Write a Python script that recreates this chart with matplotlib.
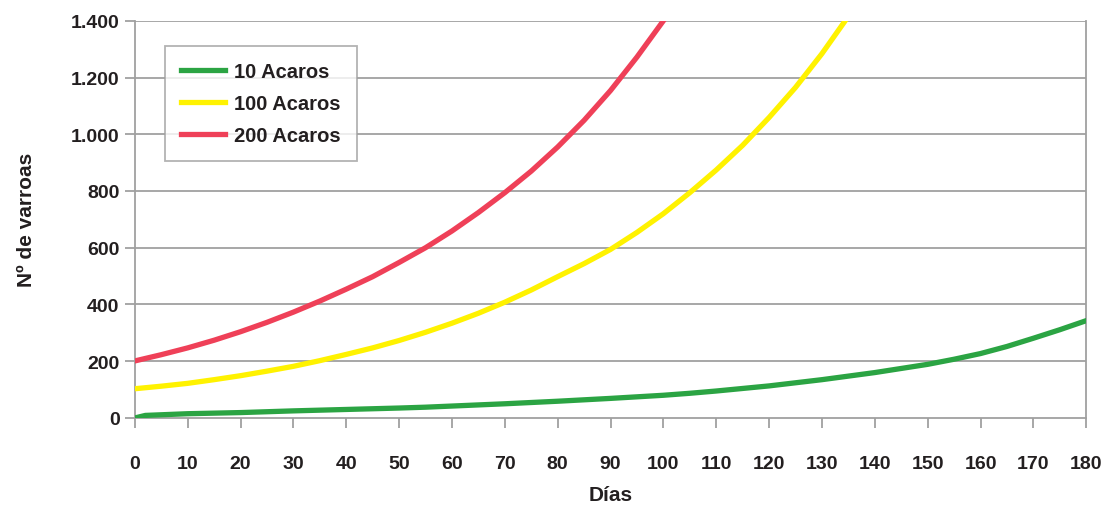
import matplotlib.pyplot as plt
from matplotlib.ticker import FuncFormatter

# valores (dias, numero de varroas)
dias_10 = [0, 2, 10, 20, 30, 40, 50, 55, 60, 70, 80, 90, 100, 105, 110, 120, 130,
           140, 150, 155, 160, 165, 170, 175, 180]
acaros_10 = [0, 9, 15, 19, 25, 30, 35, 38, 42, 50, 59, 69, 80, 87, 95, 113, 135,
             160, 189, 207, 227, 252, 281, 311, 343]

dias_100 = [0, 5, 10, 15, 20, 25, 30, 35, 40, 45, 50, 55, 60, 65, 70, 75, 80, 85,
            90, 95, 100, 105, 110, 115, 120, 125, 130, 134.4]
acaros_100 = [103, 112, 122, 135, 149, 165, 182, 202, 224, 247, 273, 302, 334, 369,
              408, 451, 498, 544, 594, 654, 720, 794, 874, 961, 1059, 1165, 1284, 1400]

dias_200 = [0, 5, 10, 15, 20, 25, 30, 35, 40, 45, 50, 55, 60, 65, 70, 75, 80, 85,
            90, 95, 100]
acaros_200 = [201, 223, 247, 274, 304, 337, 373, 412, 454, 498, 548, 600, 659, 724,
              794, 870, 955, 1049, 1154, 1272, 1400]

plt.rcParams['font.family'] = ['Liberation Sans', 'DejaVu Sans']
plt.rcParams['font.weight'] = 'bold'

fig = plt.figure(figsize=(11.05, 5.06), dpi=100)
ax = fig.add_axes([0.122, 0.172, 0.861, 0.785])

gris = '#a0a0a0'
texto = '#231f20'
for y in range(200, 1401, 200):
    ax.axhline(y, color=gris, lw=1.3, zorder=1)

ax.plot(dias_10, acaros_10, color='#2ba443', lw=3.8, label='10 Acaros', zorder=3)
ax.plot(dias_100, acaros_100, color='#fff200', lw=3.8, label='100 Acaros', zorder=3)
ax.plot(dias_200, acaros_200, color='#ef4058', lw=3.8, label='200 Acaros', zorder=3)

ax.set_xlim(0, 180)
ax.set_ylim(0, 1400)
ax.set_xticks(range(0, 181, 10))
ax.set_yticks(range(0, 1401, 200))
ax.yaxis.set_major_formatter(FuncFormatter(lambda v, p: f'{int(v):,}'.replace(',', '.')))

for s in ['left', 'right', 'bottom']:
    ax.spines[s].set_color(gris)
    ax.spines[s].set_linewidth(1.3)
ax.spines['top'].set_visible(False)
ax.tick_params(axis='both', colors=gris, width=1.3, length=7, labelsize=14, labelcolor=texto)
ax.tick_params(axis='x', pad=20)
ax.tick_params(axis='y', pad=4)

ax.set_xlabel('Días', fontsize=15, fontweight='bold', color=texto, labelpad=9)
ax.set_ylabel('Nº de varroas', fontsize=15, fontweight='bold', color=texto, labelpad=25)

leg = ax.legend(loc='upper left', bbox_to_anchor=(0.0315, 0.937), borderaxespad=0,
                frameon=True, fancybox=False, edgecolor=gris, handlelength=2.2,
                handletextpad=0.45, borderpad=0.8, labelspacing=0.65,
                prop={'weight': 'bold', 'size': 14.5})
leg.get_frame().set_linewidth(1.3)
for t in leg.get_texts():
    t.set_color(texto)

fig.savefig('out.png', dpi=100)
